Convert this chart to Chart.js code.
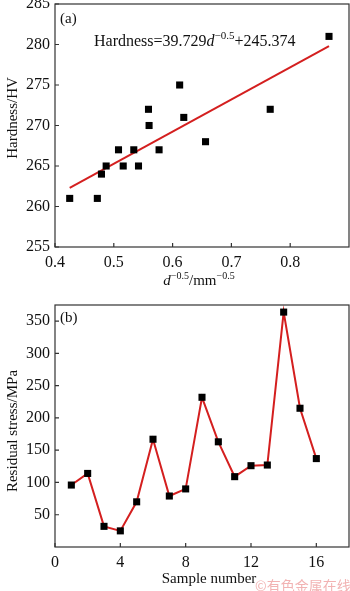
<!DOCTYPE html>
<html>
<head>
<meta charset="utf-8">
<script src="https://cdn.jsdelivr.net/npm/chart.js@4.4.0/dist/chart.umd.min.js"></script>
<style>
  html, body { margin: 0; padding: 0; background: #fff; }
  #wrap { position: relative; width: 350px; height: 591px; overflow: hidden; }
  .box { position: absolute; left: 0; width: 350px; }
  #boxA { top: 0; height: 295px; }
  #boxB { top: 295px; height: 296px; }
  #mark { position: absolute; left: 255px; top: 578px; font: 14px "Noto Sans CJK SC"; line-height: 14px; color: #f2b3b3; white-space: nowrap; }
</style>
</head>
<body>
<div id="wrap">
  <div class="box" id="boxA"><canvas id="chartA"></canvas></div>
  <div class="box" id="boxB"><canvas id="chartB"></canvas></div>
  <div id="mark">©有色金属在线</div>
</div>
<script>
// (a) hardness against d^-0.5
const sizeX = [0.425, 0.472, 0.479, 0.487, 0.508, 0.516, 0.534, 0.542, 0.559, 0.560, 0.577, 0.612, 0.619, 0.656, 0.766, 0.866];
const hardness = [261, 261, 264, 265, 267, 265, 267, 265, 272, 270, 267, 275, 271, 268, 272, 281];
const fitX = [0.425, 0.866];
const fitY = [262.3, 279.8];
const xTicksA = [0.4, 0.5, 0.6, 0.7, 0.8];
const yTicksA = [255, 260, 265, 270, 275, 280, 285];

// (b) residual stress per sample
const sampleNo = [1, 2, 3, 4, 5, 6, 7, 8, 9, 10, 11, 12, 13, 14, 15, 16];
const stress = [96, 114, 32, 25, 70, 167, 79, 90, 232, 163, 109, 126, 127, 364, 215, 137];
const xTicksB = [0, 4, 8, 12, 16];
const yTicksB = [50, 100, 150, 200, 250, 300, 350];

const SERIF = '"Liberation Serif", "Times New Roman", serif';
const RED = '#d41f1f';

// draw a run of text pieces (for superscripts / italics)
function drawRich(ctx, parts, x, y, align) {
  let total = 0;
  parts.forEach(p => {
    ctx.font = (p.italic ? 'italic ' : '') + p.size + 'px ' + SERIF;
    p.w = ctx.measureText(p.text).width;
    total += p.w;
  });
  let cx = align === 'center' ? x - total / 2 : x;
  ctx.textAlign = 'left';
  ctx.textBaseline = 'alphabetic';
  parts.forEach(p => {
    ctx.font = (p.italic ? 'italic ' : '') + p.size + 'px ' + SERIF;
    ctx.fillText(p.text, cx, y - (p.rise || 0));
    cx += p.w;
  });
}

// frame, inward tick marks and labels
const framePlugin = {
  id: 'frame',
  afterDraw(chart, args, opts) {
    const { ctx, chartArea: a, scales } = chart;
    ctx.save();
    ctx.strokeStyle = '#333';
    ctx.lineWidth = 1.2;
    ctx.strokeRect(a.left, a.top, a.right - a.left, a.bottom - a.top);
    ctx.beginPath();
    opts.xTicks.forEach(v => {
      const px = scales.x.getPixelForValue(v);
      ctx.moveTo(px, a.bottom);
      ctx.lineTo(px, a.bottom - 4);
    });
    opts.yTicks.forEach(v => {
      const py = scales.y.getPixelForValue(v);
      ctx.moveTo(a.left, py);
      ctx.lineTo(a.left + 4, py);
    });
    ctx.stroke();

    ctx.fillStyle = '#111';
    // panel letter
    ctx.font = '15px ' + SERIF;
    ctx.textAlign = 'left';
    ctx.textBaseline = 'alphabetic';
    ctx.fillText(opts.panel, a.left + 5, a.top + opts.panelDy);

    // y title
    ctx.save();
    ctx.translate(13, opts.yTitleY);
    ctx.rotate(-Math.PI / 2);
    ctx.font = '15px ' + SERIF;
    ctx.textAlign = 'center';
    ctx.textBaseline = 'middle';
    ctx.fillText(opts.yTitle, 0, 0);
    ctx.restore();

    // x title
    drawRich(ctx, opts.xTitle, opts.xTitleX, opts.xTitleY, 'center');

    if (opts.note) drawRich(ctx, opts.note, a.left + 39, a.top + 42, 'left');
    ctx.restore();
  }
};

function axis(min, max, ticks, fit, vertical) {
  return {
    type: 'linear',
    min: min,
    max: max,
    grid: { display: false, drawTicks: false },
    border: { display: false },
    ticks: {
      color: '#111',
      font: { family: SERIF, size: 16 },
      padding: vertical ? 5 : 6,
      maxRotation: 0,
      autoSkip: false
    },
    afterBuildTicks: s => { s.ticks = ticks.map(v => ({ value: v })); },
    afterFit: s => {
      if (vertical) s.width = fit; else s.height = fit;
      s.paddingLeft = s.paddingRight = s.paddingTop = s.paddingBottom = 0;
    }
  };
}

const pointStyle = {
  pointStyle: 'rect',
  pointRadius: 5,
  pointHoverRadius: 5,
  pointBackgroundColor: '#000',
  pointBorderColor: '#000',
  pointBorderWidth: 0
};

new Chart(document.getElementById('chartA').getContext('2d'), {
  type: 'scatter',
  data: {
    datasets: [
      {
        data: fitX.map((x, i) => ({ x: x, y: fitY[i] })),
        showLine: true,
        borderColor: RED,
        borderWidth: 2,
        pointRadius: 0,
        order: 2
      },
      Object.assign({
        data: sizeX.map((x, i) => ({ x: x, y: hardness[i] })),
        showLine: false,
        clip: false,
        order: 1
      }, pointStyle)
    ]
  },
  options: {
    responsive: true,
    maintainAspectRatio: false,
    animation: false,
    layout: { autoPadding: false, padding: { top: 4, right: 1, left: 0, bottom: 0 } },
    scales: {
      x: axis(0.4, 0.9, xTicksA, 48, false),
      y: axis(255, 285, yTicksA, 55, true)
    },
    plugins: {
      legend: { display: false },
      tooltip: { enabled: false },
      frame: {
        xTicks: xTicksA,
        yTicks: yTicksA,
        panel: '(a)',
        panelDy: 19,
        yTitle: 'Hardness/HV',
        yTitleY: 118,
        xTitleX: 199,
        xTitleY: 285,
        xTitle: [
          { text: 'd', size: 15, italic: true },
          { text: '−0.5', size: 10, rise: 6 },
          { text: '/mm', size: 15 },
          { text: '−0.5', size: 10, rise: 6 }
        ],
        note: [
          { text: 'Hardness=39.729', size: 16 },
          { text: 'd', size: 16, italic: true },
          { text: '−0.5', size: 11, rise: 7 },
          { text: '+245.374', size: 16 }
        ]
      }
    }
  },
  plugins: [framePlugin]
});

new Chart(document.getElementById('chartB').getContext('2d'), {
  type: 'scatter',
  data: {
    datasets: [
      Object.assign({
        data: sampleNo.map((x, i) => ({ x: x, y: stress[i] })),
        showLine: true,
        borderColor: RED,
        borderWidth: 2,
        clip: false
      }, pointStyle)
    ]
  },
  options: {
    responsive: true,
    maintainAspectRatio: false,
    animation: false,
    layout: { autoPadding: false, padding: { top: 10, right: 1, left: 0, bottom: 0 } },
    scales: {
      x: axis(0, 18, xTicksB, 44, false),
      y: axis(0, 375, yTicksB, 55, true)
    },
    plugins: {
      legend: { display: false },
      tooltip: { enabled: false },
      frame: {
        xTicks: xTicksB,
        yTicks: yTicksB,
        panel: '(b)',
        panelDy: 17,
        yTitle: 'Residual stress/MPa',
        yTitleY: 136,
        xTitleX: 209,
        xTitleY: 288,
        xTitle: [{ text: 'Sample number', size: 15 }]
      }
    }
  },
  plugins: [framePlugin]
});
</script>
</body>
</html>
